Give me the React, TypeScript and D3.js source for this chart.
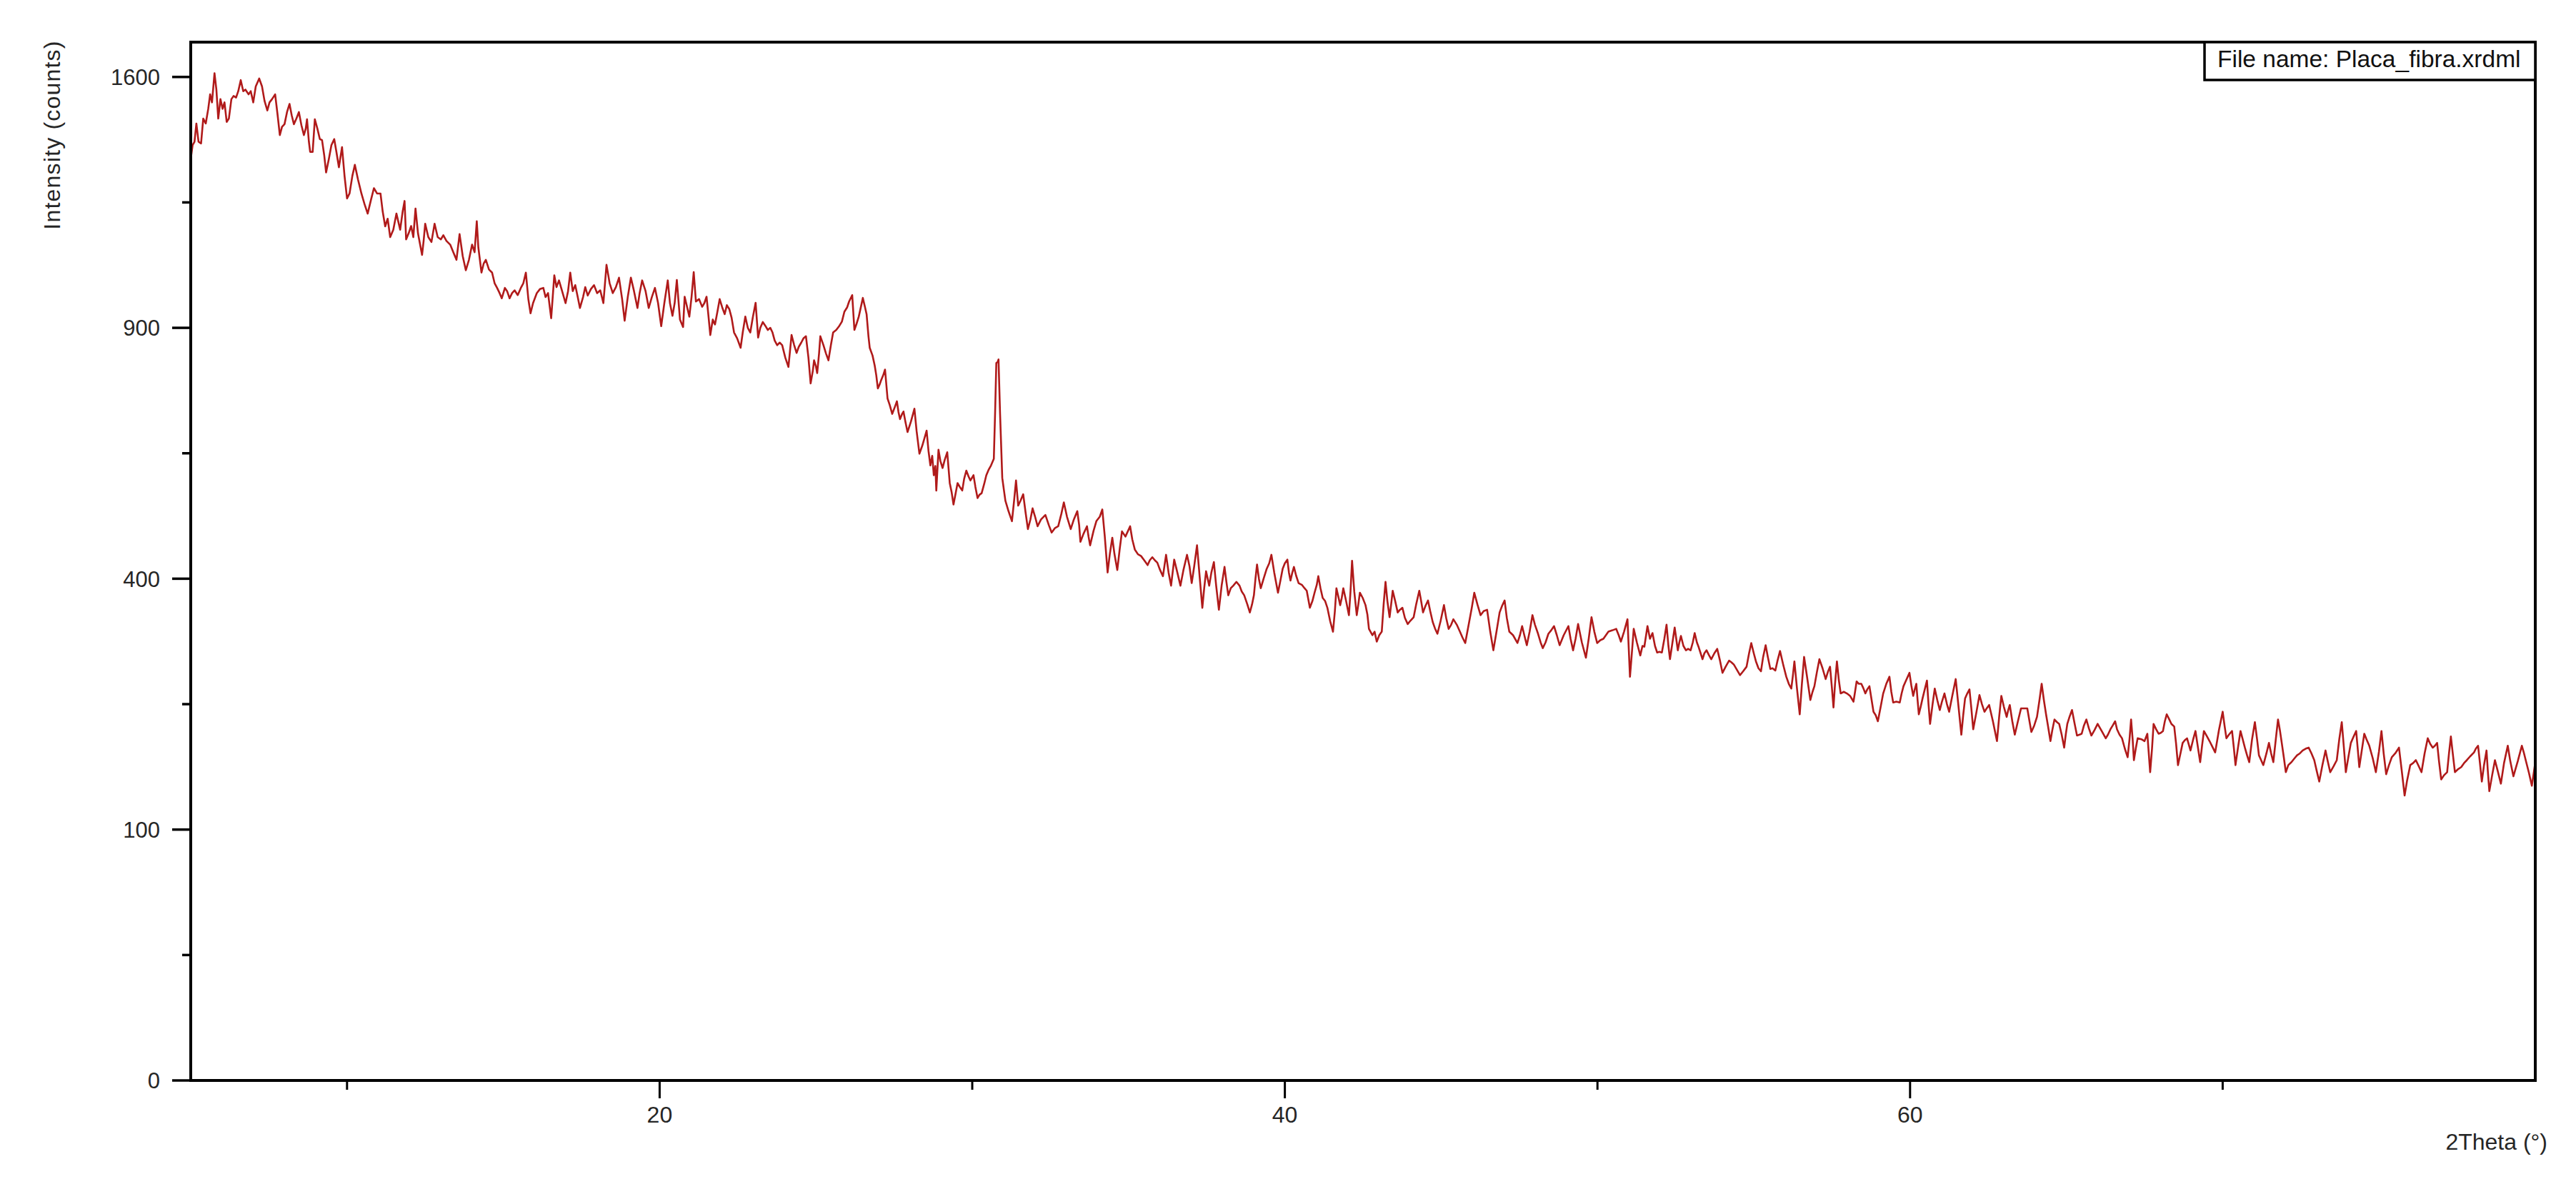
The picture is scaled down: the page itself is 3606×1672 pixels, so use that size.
import React from 'react';
import * as d3 from 'd3';

// 2Theta (deg), Intensity (counts), by angular range
const scan05to20: [number, number][] = [
[5.0,1350],[5.06,1390],[5.12,1400],[5.18,1455],[5.25,1400],[5.33,1395],[5.4,1470],[5.48,1455],[5.56,1500],[5.62,1545],[5.68,1520],[5.76,1612],[5.82,1560],[5.88,1470],[5.95,1530],[6.02,1500],[6.08,1520],[6.15,1460],[6.22,1470],[6.3,1530],[6.37,1540],[6.45,1535],[6.52,1555],[6.6,1590],[6.68,1555],[6.75,1560],[6.85,1545],[6.92,1555],[7.0,1520],[7.08,1570],[7.19,1595],[7.28,1570],[7.36,1525],[7.45,1495],[7.52,1520],[7.6,1530],[7.7,1545],[7.78,1480],[7.85,1420],[7.92,1445],[8.0,1453],[8.08,1490],[8.16,1515],[8.23,1480],[8.3,1453],[8.38,1470],[8.46,1490],[8.54,1450],[8.62,1420],[8.68,1440],[8.72,1468],[8.78,1400],[8.82,1370],[8.9,1370],[8.97,1468],[9.05,1440],[9.13,1408],[9.2,1405],[9.27,1360],[9.33,1310],[9.42,1350],[9.5,1390],[9.59,1408],[9.66,1370],[9.74,1325],[9.84,1384],[9.92,1300],[10.0,1236],[10.08,1250],[10.17,1300],[10.25,1332],[10.35,1290],[10.46,1250],[10.56,1220],[10.66,1194],[10.76,1230],[10.86,1265],[10.96,1250],[11.07,1250],[11.14,1200],[11.22,1159],[11.3,1180],[11.38,1130],[11.48,1150],[11.58,1194],[11.7,1150],[11.78,1200],[11.84,1229],[11.89,1124],[11.97,1140],[12.05,1160],[12.12,1130],[12.19,1208],[12.27,1140],[12.4,1083],[12.45,1120],[12.5,1166],[12.6,1130],[12.7,1117],[12.8,1166],[12.9,1130],[13.0,1124],[13.08,1135],[13.18,1120],[13.3,1110],[13.4,1090],[13.5,1070],[13.6,1138],[13.7,1080],[13.8,1043],[13.9,1070],[14.0,1110],[14.08,1090],[14.15,1173],[14.2,1103],[14.3,1037],[14.37,1060],[14.44,1070],[14.54,1045],[14.64,1037],[14.72,1010],[14.8,998],[14.88,985],[14.95,972],[15.05,998],[15.12,990],[15.2,972],[15.28,985],[15.36,992],[15.46,980],[15.56,998],[15.64,1010],[15.72,1037],[15.8,970],[15.87,935],[15.95,960],[16.07,985],[16.17,995],[16.28,998],[16.35,975],[16.43,985],[16.53,923],[16.63,1030],[16.7,1000],[16.78,1017],[16.88,990],[16.99,960],[17.07,990],[17.14,1037],[17.22,990],[17.3,1005],[17.38,975],[17.45,948],[17.55,975],[17.62,1000],[17.7,979],[17.8,995],[17.9,1005],[18.0,985],[18.1,992],[18.2,960],[18.3,1057],[18.4,1010],[18.5,985],[18.6,1000],[18.7,1024],[18.8,970],[18.88,917],[18.98,975],[19.08,1024],[19.18,990],[19.29,948],[19.36,985],[19.44,1017],[19.55,990],[19.65,948],[19.75,975],[19.85,998],[19.95,960],[20.05,904],[20.15,960],[20.26,1017],[20.33,960],[20.41,929]
];

const scan20to36: [number, number][] = [
[20.48,960],[20.55,1018],[20.65,920],[20.75,902],[20.8,976],[20.88,950],[20.95,927],[21.02,975],[21.09,1038],[21.16,964],[21.26,970],[21.36,951],[21.43,960],[21.5,976],[21.56,930],[21.62,883],[21.7,920],[21.77,908],[21.85,940],[21.92,970],[22.0,950],[22.08,933],[22.15,955],[22.23,945],[22.3,925],[22.38,889],[22.48,875],[22.59,853],[22.66,890],[22.74,927],[22.82,900],[22.9,889],[22.98,925],[23.07,961],[23.15,877],[23.22,900],[23.3,914],[23.38,905],[23.46,895],[23.54,900],[23.61,889],[23.68,870],[23.76,859],[23.84,865],[23.92,859],[24.02,830],[24.12,809],[24.22,883],[24.3,860],[24.38,841],[24.45,855],[24.53,865],[24.6,875],[24.68,880],[24.76,830],[24.83,772],[24.9,800],[24.94,824],[25.0,810],[25.04,795],[25.1,840],[25.14,880],[25.24,859],[25.32,840],[25.4,824],[25.48,860],[25.55,889],[25.65,895],[25.75,905],[25.83,915],[25.91,939],[26.0,950],[26.06,964],[26.16,980],[26.23,895],[26.3,910],[26.37,927],[26.45,955],[26.5,973],[26.57,950],[26.62,933],[26.68,880],[26.72,853],[26.81,835],[26.88,812],[26.93,790],[26.98,761],[27.04,770],[27.08,778],[27.15,790],[27.21,803],[27.29,739],[27.36,725],[27.44,706],[27.52,720],[27.59,733],[27.64,710],[27.69,695],[27.75,705],[27.8,711],[27.86,690],[27.93,668],[28.04,690],[28.15,717],[28.22,670],[28.31,624],[28.4,640],[28.47,655],[28.54,671],[28.6,630],[28.66,601],[28.72,620],[28.77,582],[28.82,600],[28.85,553],[28.92,632],[28.98,610],[29.05,596],[29.12,612],[29.2,627],[29.28,567],[29.34,550],[29.4,527],[29.47,548],[29.53,567],[29.6,560],[29.68,553],[29.74,575],[29.81,591],[29.88,580],[29.94,572],[30.04,582],[30.1,560],[30.17,539],[30.23,545],[30.3,548],[30.38,565],[30.45,582],[30.52,592],[30.6,601],[30.69,614],[30.73,706],[30.77,818],[30.81,820],[30.84,826],[30.89,706],[30.96,577],[31.01,555],[31.06,534],[31.16,515],[31.27,497],[31.34,535],[31.4,572],[31.47,525],[31.55,535],[31.63,546],[31.7,515],[31.78,483],[31.86,500],[31.93,520],[32.01,505],[32.09,488],[32.2,500],[32.34,508],[32.45,490],[32.54,477],[32.65,485],[32.75,488],[32.85,510],[32.93,531],[33.03,505],[33.15,483],[33.25,500],[33.36,515],[33.42,490],[33.46,461],[33.56,475],[33.67,488],[33.72,470],[33.77,455],[33.88,480],[33.97,497],[34.08,505],[34.16,518],[34.24,470],[34.33,410],[34.4,440],[34.48,468],[34.55,440],[34.64,414],[34.72,450],[34.79,479],[34.9,470],[35.05,488],[35.12,465],[35.2,448],[35.3,440],[35.4,437],[35.5,430],[35.61,422],[35.68,430],[35.76,435],[35.84,430],[35.92,426],[36.0,415]
];

const scan36to51: [number, number][] = [
[36.1,404],[36.2,439],[36.28,410],[36.36,389],[36.46,431],[36.56,410],[36.66,389],[36.76,415],[36.87,439],[36.95,420],[37.02,393],[37.1,420],[37.19,455],[37.28,400],[37.36,355],[37.42,385],[37.48,412],[37.58,389],[37.65,410],[37.73,427],[37.8,390],[37.89,352],[37.98,390],[38.07,419],[38.13,395],[38.19,374],[38.27,385],[38.35,389],[38.45,395],[38.55,389],[38.62,380],[38.7,374],[38.8,360],[38.88,348],[38.95,360],[39.01,374],[39.06,400],[39.11,423],[39.17,400],[39.23,385],[39.32,400],[39.42,416],[39.5,425],[39.57,439],[39.66,410],[39.78,378],[39.85,395],[39.93,416],[40.0,425],[40.08,431],[40.13,410],[40.18,397],[40.24,410],[40.29,419],[40.36,405],[40.44,393],[40.55,390],[40.63,385],[40.7,381],[40.8,355],[40.88,365],[40.95,378],[41.02,390],[41.07,404],[41.14,385],[41.21,370],[41.29,365],[41.36,355],[41.45,335],[41.54,320],[41.6,350],[41.65,385],[41.72,370],[41.77,359],[41.82,370],[41.87,385],[41.96,365],[42.05,344],[42.1,380],[42.15,429],[42.22,380],[42.3,344],[42.35,360],[42.4,378],[42.49,370],[42.58,359],[42.64,345],[42.69,324],[42.8,315],[42.87,320],[42.94,306],[43.02,315],[43.1,320],[43.16,360],[43.22,395],[43.28,365],[43.35,341],[43.4,360],[43.45,381],[43.53,365],[43.61,348],[43.68,352],[43.76,355],[43.84,340],[43.93,331],[44.02,336],[44.12,341],[44.2,360],[44.3,381],[44.36,365],[44.42,348],[44.5,358],[44.58,366],[44.65,350],[44.73,334],[44.8,325],[44.88,317],[44.98,335],[45.09,359],[45.16,340],[45.24,324],[45.32,330],[45.39,338],[45.5,330],[45.6,320],[45.68,312],[45.77,304],[45.9,335],[45.98,355],[46.06,378],[46.16,360],[46.26,344],[46.36,350],[46.47,352],[46.57,320],[46.67,294],[46.77,320],[46.87,348],[46.95,358],[47.03,366],[47.1,340],[47.18,320],[47.3,315],[47.44,304],[47.52,315],[47.59,328],[47.66,315],[47.74,301],[47.83,320],[47.92,344],[48.0,330],[48.1,317],[48.18,305],[48.25,297],[48.34,305],[48.43,317],[48.52,322],[48.61,328],[48.7,315],[48.79,301],[48.92,315],[49.07,328],[49.14,310],[49.22,294],[49.3,310],[49.38,331],[49.5,305],[49.63,284],[49.72,310],[49.81,341],[49.9,320],[49.99,304],[50.09,308],[50.19,310],[50.27,315],[50.35,320],[50.48,322],[50.6,324],[50.68,315],[50.75,306],[50.85,320],[50.96,338],[51.04,259],[51.1,290],[51.16,324],[51.26,305],[51.37,287],[51.44,300]
];

const scan51to66: [number, number][] = [
[51.5,299],[51.6,328],[51.68,310],[51.76,318],[51.84,300],[51.91,291],[51.98,292],[52.06,291],[52.14,310],[52.21,330],[52.27,300],[52.32,282],[52.4,305],[52.47,326],[52.52,310],[52.57,294],[52.62,305],[52.67,314],[52.75,300],[52.83,294],[52.9,296],[52.98,294],[53.05,305],[53.11,318],[53.18,305],[53.24,298],[53.3,290],[53.36,282],[53.42,290],[53.49,294],[53.56,288],[53.64,282],[53.74,290],[53.83,296],[53.92,280],[54.0,264],[54.1,272],[54.21,280],[54.28,278],[54.36,275],[54.46,268],[54.56,261],[54.66,266],[54.77,272],[54.85,290],[54.92,304],[55.0,290],[55.07,279],[55.15,270],[55.23,266],[55.3,285],[55.38,301],[55.45,285],[55.53,269],[55.6,270],[55.69,267],[55.76,280],[55.84,293],[55.94,275],[56.04,259],[56.12,250],[56.2,244],[56.25,260],[56.3,279],[56.38,245],[56.47,213],[56.54,250],[56.61,285],[56.7,260],[56.81,230],[56.88,240],[56.94,247],[57.02,265],[57.1,282],[57.2,270],[57.3,256],[57.37,265],[57.44,272],[57.5,245],[57.55,221],[57.6,250],[57.66,279],[57.72,255],[57.78,238],[57.88,240],[57.98,238],[58.08,235],[58.19,228],[58.24,240],[58.29,253],[58.36,250],[58.44,250],[58.5,245],[58.57,238],[58.63,243],[58.7,247],[58.77,230],[58.83,216],[58.9,212],[58.97,205],[59.05,220],[59.14,238],[59.24,250],[59.34,259],[59.4,240],[59.46,227],[59.56,228],[59.67,227],[59.73,238],[59.79,247],[59.88,255],[59.98,264],[60.04,248],[60.1,235],[60.15,243],[60.2,250],[60.24,230],[60.28,213],[60.34,222],[60.4,232],[60.47,243],[60.54,254],[60.59,225],[60.64,202],[60.72,225],[60.79,244],[60.87,230],[60.95,218],[61.02,228],[61.1,238],[61.18,225],[61.25,216],[61.35,235],[61.46,256],[61.55,222],[61.64,190],[61.7,212],[61.76,232],[61.83,238],[61.9,243],[61.96,220],[62.02,196],[62.12,215],[62.22,236],[62.3,225],[62.38,216],[62.45,220],[62.53,224],[62.65,205],[62.78,183],[62.85,210],[62.92,235],[63.0,222],[63.09,210],[63.14,218],[63.19,224],[63.27,205],[63.35,190],[63.45,205],[63.55,220],[63.65,220],[63.75,220],[63.82,205],[63.88,193],[63.97,200],[64.06,210],[64.14,230],[64.21,250],[64.28,230],[64.35,213],[64.42,198],[64.49,183],[64.55,195],[64.62,207],[64.7,204],[64.77,202],[64.85,190],[64.93,176],[64.98,190],[65.03,202],[65.1,210],[65.18,218],[65.26,203],[65.34,189],[65.42,190],[65.49,191],[65.56,200],[65.64,207],[65.72,197],[65.8,189],[65.9,195],[66.0,202],[66.13,194],[66.26,186],[66.33,190],[66.41,196],[66.48,200],[66.56,205]
];

const scan66to80: [number, number][] = [
[66.62,196],[66.7,190],[66.78,186],[66.87,175],[66.96,166],[67.02,185],[67.07,207],[67.12,185],[67.16,163],[67.22,175],[67.28,186],[67.4,185],[67.5,183],[67.59,191],[67.68,151],[67.74,175],[67.79,202],[67.87,196],[67.95,191],[68.02,192],[68.09,194],[68.15,205],[68.21,213],[68.28,208],[68.36,202],[68.45,199],[68.51,180],[68.57,158],[68.65,170],[68.72,181],[68.79,184],[68.86,186],[68.97,173],[69.05,184],[69.13,194],[69.2,178],[69.28,161],[69.34,178],[69.4,194],[69.5,188],[69.58,183],[69.67,177],[69.76,171],[69.88,195],[70.0,216],[70.06,200],[70.12,186],[70.2,190],[70.3,194],[70.36,175],[70.41,158],[70.49,176],[70.57,194],[70.64,185],[70.71,176],[70.78,168],[70.85,161],[70.94,185],[71.03,204],[71.1,185],[71.16,168],[71.23,163],[71.3,158],[71.4,170],[71.48,181],[71.55,170],[71.62,161],[71.7,185],[71.77,207],[71.83,195],[71.89,181],[71.96,165],[72.02,151],[72.1,158],[72.2,161],[72.3,165],[72.38,168],[72.47,170],[72.56,173],[72.66,175],[72.75,176],[72.84,170],[72.93,163],[73.01,152],[73.09,142],[73.19,158],[73.29,173],[73.36,162],[73.44,151],[73.55,157],[73.65,163],[73.73,185],[73.81,204],[73.88,175],[73.94,151],[74.02,166],[74.1,181],[74.19,188],[74.27,194],[74.32,175],[74.37,156],[74.45,173],[74.53,191],[74.6,185],[74.69,178],[74.8,165],[74.9,151],[75.0,172],[75.08,194],[75.15,170],[75.23,149],[75.32,158],[75.41,166],[75.52,170],[75.64,176],[75.73,152],[75.82,129],[75.9,143],[76.0,158],[76.09,160],[76.18,163],[76.27,157],[76.36,151],[76.46,170],[76.56,186],[76.64,180],[76.72,176],[76.79,178],[76.86,181],[76.92,162],[76.99,144],[77.08,148],[77.18,151],[77.24,170],[77.3,188],[77.36,170],[77.43,151],[77.53,154],[77.63,156],[77.72,160],[77.81,163],[77.92,167],[78.04,171],[78.1,175],[78.17,178],[78.23,160],[78.29,142],[78.36,158],[78.44,173],[78.48,153],[78.53,133],[78.62,148],[78.71,163],[78.8,152],[78.9,140],[79.0,160],[79.12,178],[79.2,162],[79.3,147],[79.44,162],[79.57,178],[79.64,170],[79.71,161],[79.8,150],[79.89,138],[79.95,150],[80.0,161]
];

const xDomain = [5, 80];
const yMax = 1713;
const xMajorTicks = [20, 40, 60];
const xMinorTicks = [10, 30, 50, 70];
const yMajorTicks = [0, 100, 400, 900, 1600];
const yMinorTicks = [25, 225, 625, 1225];
const xTitle = '2Theta (°)';
const yTitle = 'Intensity (counts)';
const fileLabel = 'File name: Placa_fibra.xrdml';

export default function App() {
  const W = 3606, H = 1672;
  const left = 267, right = 3549, top = 59, bottom = 1513;
  const x = d3.scaleLinear().domain(xDomain).range([left, right]);
  const y = d3.scaleSqrt().domain([0, yMax]).range([bottom, top]);
  const data = [...scan05to20, ...scan20to36, ...scan36to51, ...scan51to66, ...scan66to80];
  const line = d3.line<[number, number]>().x(d => x(d[0])).y(d => y(d[1]));
  const font = 'Liberation Sans, Arial, sans-serif';
  const txt = '#262626';

  return (
    <svg width={W} height={H} style={{ position: 'absolute', left: 0, top: 0, background: '#fff' }}>
      <rect x={0} y={0} width={W} height={H} fill="#fff" />
      <path d={line(data) || ''} fill="none" stroke="#b01a1a" strokeWidth={2.6} strokeLinejoin="round" />
      {/* frame */}
      <rect x={left} y={top} width={right - left} height={bottom - top} fill="none" stroke="#000" strokeWidth={4} />
      {/* y ticks */}
      {yMajorTicks.map(t => (
        <g key={'ym' + t}>
          <line x1={left - 26} x2={left} y1={y(t)} y2={y(t)} stroke="#000" strokeWidth={3.5} />
          <text x={224} y={y(t)} dy="0.36em" textAnchor="end" fontFamily={font} fontSize={31} fill={txt}>{t}</text>
        </g>
      ))}
      {yMinorTicks.map(t => (
        <line key={'yn' + t} x1={left - 12} x2={left} y1={y(t)} y2={y(t)} stroke="#000" strokeWidth={3.5} />
      ))}
      {/* x ticks */}
      {xMajorTicks.map(t => (
        <g key={'xm' + t}>
          <line x1={x(t)} x2={x(t)} y1={bottom} y2={bottom + 25} stroke="#000" strokeWidth={3} />
          <text x={x(t)} y={1572} textAnchor="middle" fontFamily={font} fontSize={32} fill={txt}>{t}</text>
        </g>
      ))}
      {xMinorTicks.map(t => (
        <line key={'xn' + t} x1={x(t)} x2={x(t)} y1={bottom} y2={bottom + 13} stroke="#000" strokeWidth={3} />
      ))}
      {/* titles */}
      <text x={3566} y={1610} textAnchor="end" fontFamily={font} fontSize={32} fill={txt}>{xTitle}</text>
      <text transform="translate(84,189) rotate(-90)" textAnchor="middle" fontFamily={font} fontSize={32} letterSpacing={1.2} fill={txt}>{yTitle}</text>
      {/* file label */}
      <rect x={3086} y={top} width={right - 3086} height={53} fill="#fff" stroke="#000" strokeWidth={3.5} />
      <text x={3104} y={94} fontFamily={font} fontSize={33.5} fill="#111">{fileLabel}</text>
    </svg>
  );
}
